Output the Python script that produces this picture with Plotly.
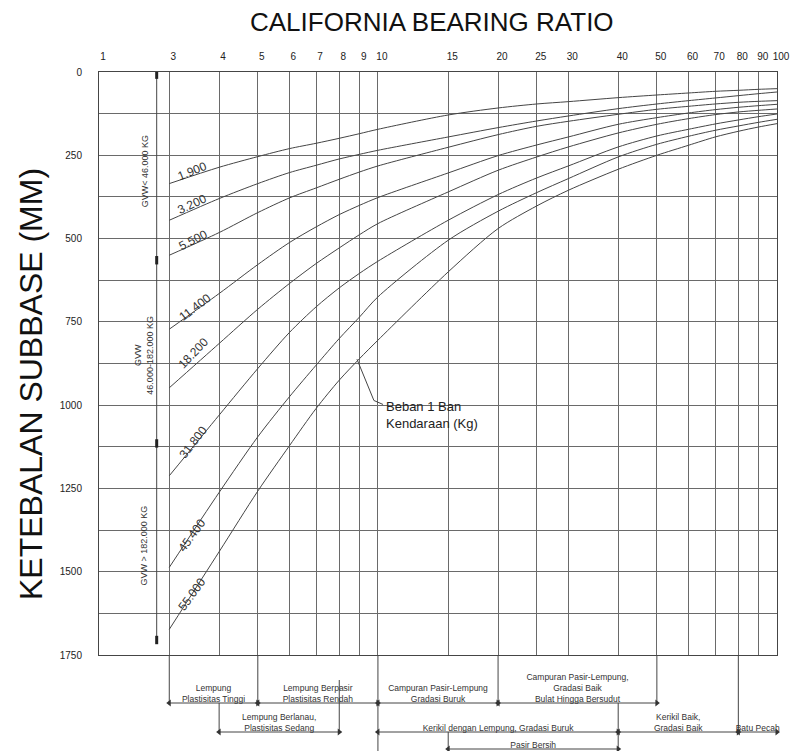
import numpy as np
import plotly.graph_objects as go

# ================================
# Data
# ================================
cbr = [3, 4, 5, 6, 7, 8, 9, 10, 15, 20, 25, 30, 40, 50, 60, 70, 80, 90, 100]

beban = ['1.900', '3.200', '5.500', '11.400', '18.200', '31.800', '45.400', '55.000']
tebal_1900 = [335, 286, 254, 230, 214, 199, 185, 172, 129, 108, 96, 89, 77, 69, 63, 58, 55, 52, 50]
tebal_3200 = [445, 380, 335, 302, 280, 261, 247, 235, 195, 167, 147, 132, 110, 96, 86, 78, 71, 65, 60]
tebal_5500 = [550, 482, 422, 378, 348, 322, 300, 282, 226, 188, 163, 148, 127, 112, 103, 96, 91, 88, 86]
tebal_11400 = [772, 665, 578, 512, 465, 428, 400, 377, 303, 251, 219, 195, 157, 137, 123, 113, 106, 101, 97]
tebal_18200 = [948, 815, 712, 635, 575, 528, 488, 455, 360, 295, 255, 225, 183, 157, 140, 128, 120, 115, 111]
tebal_31800 = [1212, 1030, 890, 782, 705, 648, 604, 568, 445, 368, 318, 282, 225, 192, 172, 156, 144, 134, 126]
tebal_45400 = [1487, 1262, 1095, 975, 880, 800, 735, 675, 505, 418, 362, 320, 255, 217, 193, 175, 162, 151, 142]
tebal_55000 = [1673, 1440, 1258, 1122, 1010, 925, 860, 805, 600, 470, 402, 355, 292, 250, 220, 195, 178, 165, 155]
kurva = [tebal_1900, tebal_3200, tebal_5500, tebal_11400,
         tebal_18200, tebal_31800, tebal_45400, tebal_55000]

# top axis ticks ("1" sits on the left edge of the chart)
cbr_tick_text = ['1', '3', '4', '5', '6', '7', '8', '9', '10', '15', '20', '25', '30',
                 '40', '50', '60', '70', '80', '90', '100']
tebal_ticks = list(range(0, 1751, 125))
tebal_tick_text = [str(v) if v % 250 == 0 else '' for v in tebal_ticks]

# GVW groups along the left dimension line (mm)
gvw_teks = ['GVW< 46.000 KG', 'GVW<br>46.000-182.000 KG', 'GVW > 182.000 KG']
gvw_batas = [8, 565, 1115, 1705]

# soil classes under the chart
tanah_nama = ['Lempung<br>Plastisitas Tinggi', 'Lempung Berpasir<br>Plastisitas Rendah',
              'Campuran Pasir-Lempung<br>Gradasi Buruk',
              'Campuran Pasir-Lempung,<br>Gradasi Baik<br>Bulat Hingga Bersudut',
              'Lempung Berlanau,<br>Plastisitas Sedang', 'Kerikil dengan Lempung, Gradasi Buruk',
              'Kerikil Baik,<br>Gradasi Baik', 'Batu Pecah', 'Pasir Bersih']
tanah_cbr_min = [3, 5, 10, 20, 4, 10, 40, 80, 15]
tanah_cbr_max = [5, 10, 20, 50, 8, 40, 80, 100, 40]
tanah_baris = [1, 1, 1, 1, 2, 2, 2, 2, 3]

# ================================
# Layout / style
# ================================
W, H = 801, 751
X_MIN = 2.0                       # value at the left border
ML, MR, MT = 99, 24, 72
BAWAH = 96                        # px of the soil strip under the plot
FRAC = BAWAH / (H - MT)
FONT = 'Liberation Sans, Arial, sans-serif'
GRID = '#6a6a6a'
GARIS = '#454545'

baris_y = {1: 48, 2: 77, 3: 94}
geser_teks = 1
batas_vertikal = [(3, 0, 48), (5, 0, 48), (10, 0, 96), (20, 0, 48), (50, 0, 48),
                  (4, 48, 77), (8, 25, 77), (40, 48, 96), (80, 0, 77), (15, 77, 96)]

label_pos = [(3.43, 297, -22), (3.43, 397, -25), (3.45, 505, -27), (3.49, 706, -37),
             (3.45, 844, -46), (3.45, 1112, -52), (3.42, 1389, -54), (3.42, 1566, -54)]

fig = go.Figure()

for tebal in kurva:
    fig.add_trace(go.Scatter(x=cbr, y=tebal, mode='lines',
                             line=dict(color=GARIS, width=1, shape='spline', smoothing=0.8),
                             hoverinfo='skip', showlegend=False))

# GVW dimension line
fig.add_trace(go.Scatter(x=[2.79] * len(gvw_batas), y=gvw_batas, mode='lines+markers',
                         line=dict(color=GARIS, width=1),
                         marker=dict(symbol='line-ns', size=6, line=dict(color='#222', width=3)),
                         hoverinfo='skip', showlegend=False))
for i, t in enumerate(gvw_teks):
    mid = (gvw_batas[i] + gvw_batas[i + 1]) / 2
    fig.add_annotation(x=np.log10(2.6), y=mid + 10, xref='x', yref='y', text=t, showarrow=False,
                       textangle=-90, font=dict(family=FONT, size=9, color='#333'))

# curve labels
for t, (cx, cy, ang) in zip(beban, label_pos):
    fig.add_annotation(x=np.log10(cx), y=cy, xref='x', yref='y', text=t, showarrow=False,
                       textangle=ang, font=dict(family=FONT, size=12, color='#333'))

# leader "Beban 1 Ban Kendaraan"
fig.add_trace(go.Scatter(x=[8.86, 9.77, 10.3], y=[862, 986, 998], mode='lines',
                         line=dict(color=GARIS, width=1), hoverinfo='skip', showlegend=False))
fig.add_annotation(x=np.log10(10.35), y=1030, xref='x', yref='y', xanchor='left', align='left',
                   text='Beban 1 Ban<br>Kendaraan (Kg)', showarrow=False,
                   font=dict(family=FONT, size=13, color='#222'))

# soil strip: boundaries, dimension lines and names
vx, vy = [], []
for c, a, b in batas_vertikal:
    vx += [c, c, None]
    vy += [a, b, None]
fig.add_trace(go.Scatter(x=vx, y=vy, xaxis='x2', yaxis='y2', mode='lines',
                         line=dict(color=GARIS, width=1), hoverinfo='skip', showlegend=False))

for nama, lo, hi, br in zip(tanah_nama, tanah_cbr_min, tanah_cbr_max, tanah_baris):
    yy = baris_y[br]
    fig.add_trace(go.Scatter(x=[lo, hi], y=[yy, yy], xaxis='x2', yaxis='y2', mode='lines+markers',
                             line=dict(color=GARIS, width=1),
                             marker=dict(symbol=['triangle-left', 'triangle-right'], size=6,
                                         color='#333'),
                             hoverinfo='skip', showlegend=False, cliponaxis=False))
    fig.add_trace(go.Scatter(x=[np.sqrt(lo * hi)], y=[yy + geser_teks], xaxis='x2', yaxis='y2',
                             mode='text', text=[nama], textposition='top center',
                             textfont=dict(family=FONT, size=8.5, color='#333'),
                             hoverinfo='skip', showlegend=False, cliponaxis=False))

# titles
fig.add_annotation(x=(432 - ML) / (W - ML - MR), y=(H - 22) / (H - MT), xref='paper', yref='paper',
                   xanchor='center', yanchor='middle',
                   text='CALIFORNIA BEARING RATIO', showarrow=False,
                   font=dict(family=FONT, size=26, color='#111'))
fig.add_annotation(x=(31 - ML) / (W - ML - MR), y=(H - 384) / (H - MT), xref='paper', yref='paper',
                   xanchor='center', yanchor='middle',
                   text='KETEBALAN SUBBASE (MM)', showarrow=False, textangle=-90,
                   font=dict(family=FONT, size=32, color='#111'))

xr = [np.log10(X_MIN), 2]
fig.update_layout(
    width=W, height=H,
    margin=dict(l=ML, r=MR, t=MT, b=0, autoexpand=False),
    plot_bgcolor='white', paper_bgcolor='white',
    font=dict(family=FONT),
    xaxis=dict(type='log', range=xr, side='top', anchor='y', domain=[0, 1],
               tickmode='array', tickvals=[X_MIN] + cbr, ticktext=cbr_tick_text,
               ticks='', ticklabelstandoff=7, ticklabelshift=4,
               tickfont=dict(size=10, color='#222'),
               showgrid=True, gridcolor=GRID, gridwidth=1,
               showline=True, linecolor=GARIS, linewidth=1, mirror=True, zeroline=False),
    yaxis=dict(range=[1750, 0], domain=[FRAC, 1], anchor='x',
               tickmode='array', tickvals=tebal_ticks, ticktext=tebal_tick_text,
               ticks='', ticklabelstandoff=14, tickfont=dict(size=10, color='#222'),
               showgrid=True, gridcolor=GRID, gridwidth=1,
               showline=True, linecolor=GARIS, linewidth=1, mirror=True, zeroline=False),
    xaxis2=dict(type='log', range=xr, anchor='y2', domain=[0, 1], visible=False),
    yaxis2=dict(range=[BAWAH, 0], domain=[0, FRAC], anchor='x2', visible=False),
)

fig.write_html('out.html', config={'displayModeBar': False},
               post_script="document.body.style.margin='0';")
